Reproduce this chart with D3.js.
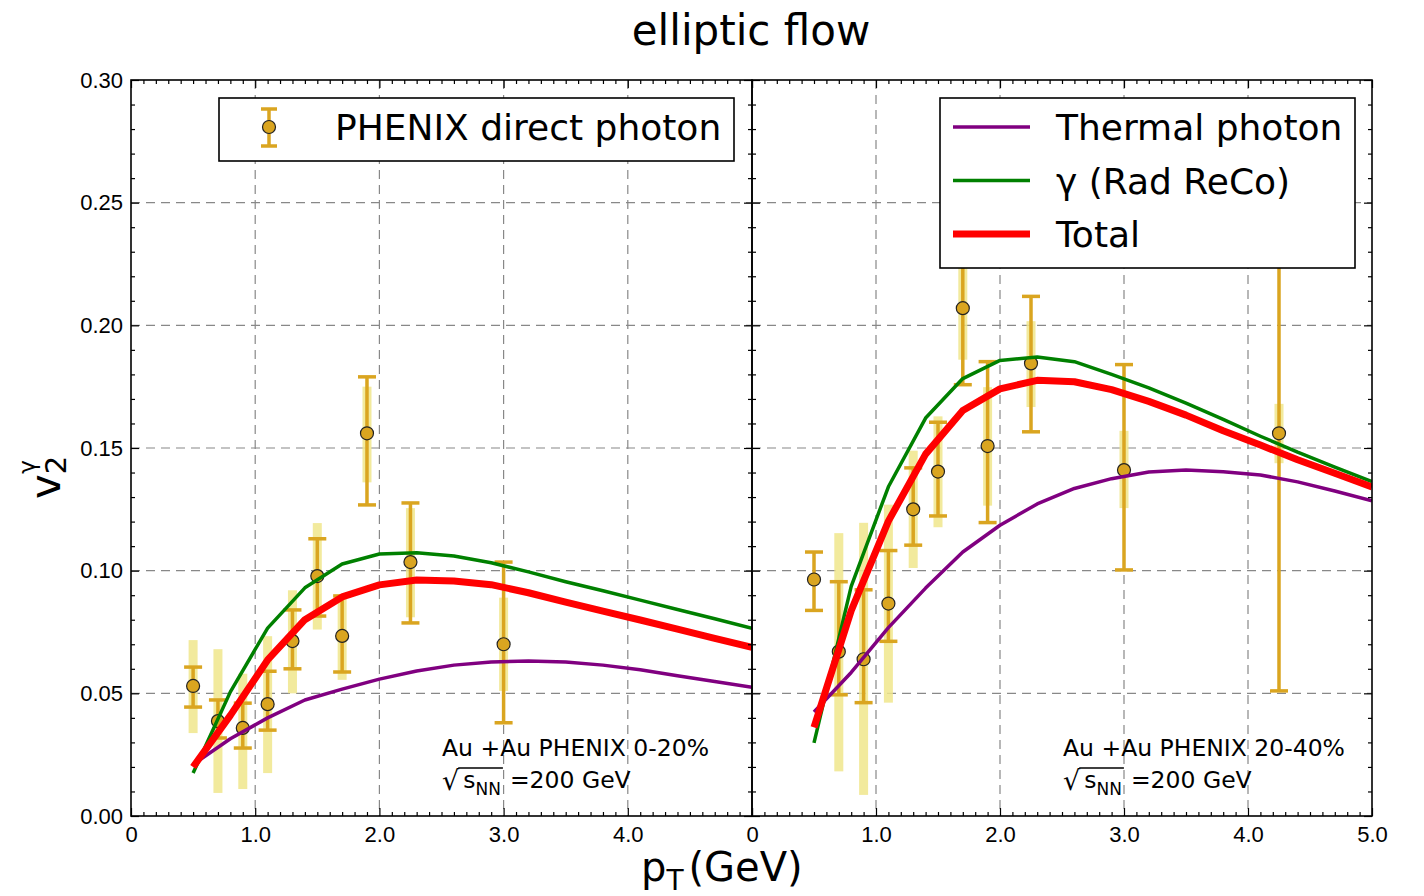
<!DOCTYPE html>
<html>
<head>
<meta charset="utf-8">
<script src="https://cdn.jsdelivr.net/npm/d3@7"></script>
<style>
  body { margin: 0; background: #fff; }
  svg { font-family: "DejaVu Sans", sans-serif; }
  .grid line { stroke: #888; stroke-width: 1.2; stroke-dasharray: 9 6; }
  .axis text { font-size: 22px; fill: #000; }
  .axis line { stroke: #000; stroke-width: 1.2; }
</style>
</head>
<body>
<script>
// ---- model curves (pT grid shared by both panels)
const ptCurve = [0.5, 0.8, 1.1, 1.4, 1.7, 2.0, 2.3, 2.6, 2.9, 3.2, 3.5, 3.8, 4.1, 4.4, 4.7, 5.0];

const thermalCentral = [0.021, 0.0315, 0.040, 0.0473, 0.0517, 0.0558, 0.0591, 0.0615, 0.0628, 0.0632, 0.0628, 0.0615, 0.0596, 0.0572, 0.0548, 0.0525];
const radRecoCentral = [0.0175, 0.0506, 0.0766, 0.093, 0.1027, 0.1068, 0.1073, 0.106, 0.1032, 0.0995, 0.0955, 0.0918, 0.088, 0.0842, 0.0804, 0.0765];
const totalCentral   = [0.020, 0.041, 0.0636, 0.080, 0.0893, 0.0942, 0.0962, 0.0958, 0.0943, 0.091, 0.0872, 0.0835, 0.0799, 0.0762, 0.0724, 0.0687];

const thermalMid = [0.0424, 0.0585, 0.0768, 0.0929, 0.1076, 0.1185, 0.1272, 0.1335, 0.1375, 0.1402, 0.141, 0.1403, 0.139, 0.1362, 0.1325, 0.1285];
const radRecoMid = [0.0298, 0.0936, 0.1342, 0.1622, 0.1783, 0.1857, 0.1871, 0.1852, 0.180, 0.1745, 0.1683, 0.1617, 0.1548, 0.1483, 0.1422, 0.1363];
const totalMid   = [0.0361, 0.0837, 0.1202, 0.1475, 0.1653, 0.1741, 0.1776, 0.177, 0.1738, 0.169, 0.1634, 0.157, 0.1512, 0.1452, 0.1397, 0.1341];

// ---- PHENIX direct photon data, 0-20%
const ptCentral      = [0.5, 0.7, 0.9, 1.1, 1.3, 1.5, 1.7, 1.9, 2.25, 3.0];
const v2Central      = [0.053, 0.0387, 0.0359, 0.0456, 0.0713, 0.0978, 0.0734, 0.156, 0.1035, 0.070];
const statLoCentral  = [0.0444, 0.0318, 0.0277, 0.035, 0.060, 0.0815, 0.0587, 0.1268, 0.0787, 0.038];
const statHiCentral  = [0.0607, 0.0473, 0.046, 0.059, 0.084, 0.113, 0.0897, 0.179, 0.1276, 0.1035];
const sysLoCentral   = [0.0338, 0.0094, 0.011, 0.0175, 0.050, 0.076, 0.0555, 0.136, 0.081, 0.051];
const sysHiCentral   = [0.0717, 0.068, 0.058, 0.0733, 0.092, 0.1194, 0.0904, 0.175, 0.1255, 0.089];

// ---- PHENIX direct photon data, 20-40%
const ptMid      = [0.5, 0.7, 0.9, 1.1, 1.3, 1.5, 1.7, 1.9, 2.25, 3.0, 4.25];
const v2Mid      = [0.0964, 0.067, 0.0639, 0.0866, 0.125, 0.1404, 0.207, 0.1508, 0.1845, 0.141, 0.156];
const statLoMid  = [0.0838, 0.0494, 0.0462, 0.0712, 0.1104, 0.1223, 0.1758, 0.1196, 0.1566, 0.1003, 0.051];
const statHiMid  = [0.1076, 0.0955, 0.0922, 0.1082, 0.1419, 0.1605, 0.238, 0.1852, 0.2118, 0.184, 0.261];
const sysLoMid   = [null, 0.0182, 0.0086, 0.0462, 0.1011, 0.1177, 0.186, 0.1265, 0.1667, 0.1255, 0.1438];
const sysHiMid   = [null, 0.1153, 0.1195, 0.1269, 0.1489, 0.1629, 0.228, 0.1748, 0.2017, 0.157, 0.168];

const xTicks = [0, 1, 2, 3, 4, 5];
const yTicks = [0, 0.05, 0.10, 0.15, 0.20, 0.25, 0.30];

const width = 1424, height = 896;
const plotTop = 80, plotBottom = 816;
const gold = "#DAA520", khaki = "#F0E68C";

const svg = d3.select("body").append("svg")
    .attr("width", width)
    .attr("height", height);

const y = d3.scaleLinear().domain([0, 0.3]).range([plotBottom, plotTop]);

const panels = [
    {left: 131, right: 752, curves: [thermalCentral, radRecoCentral, totalCentral],
     pt: ptCentral, v2: v2Central, statLo: statLoCentral, statHi: statHiCentral,
     sysLo: sysLoCentral, sysHi: sysHiCentral, yLabels: true, lastLabel: false,
     note: "Au +Au PHENIX 0-20%", noteX: 442},
    {left: 752, right: 1372, curves: [thermalMid, radRecoMid, totalMid],
     pt: ptMid, v2: v2Mid, statLo: statLoMid, statHi: statHiMid,
     sysLo: sysLoMid, sysHi: sysHiMid, yLabels: false, lastLabel: true,
     note: "Au +Au PHENIX 20-40%", noteX: 1063}
];

const curveStyle = [
    {color: "#800080", w: 3.5},
    {color: "#008000", w: 3.5},
    {color: "#FF0000", w: 7}
];

panels.forEach((p, pi) => {
    const x = d3.scaleLinear().domain([0, 5]).range([p.left, p.right]);
    const g = svg.append("g");

    g.append("clipPath").attr("id", "clip" + pi)
      .append("rect")
        .attr("x", p.left).attr("y", plotTop)
        .attr("width", p.right - p.left).attr("height", plotBottom - plotTop);

    // grid
    const grid = g.append("g").attr("class", "grid");
    grid.selectAll(".gx").data(xTicks.slice(1, -1)).enter().append("line")
        .attr("x1", d => x(d)).attr("x2", d => x(d))
        .attr("y1", plotTop).attr("y2", plotBottom);
    grid.selectAll(".gy").data(yTicks.slice(1, -1)).enter().append("line")
        .attr("x1", p.left).attr("x2", p.right)
        .attr("y1", d => y(d)).attr("y2", d => y(d));

    const plot = g.append("g").attr("clip-path", "url(#clip" + pi + ")");
    const idx = d3.range(p.pt.length);

    // systematic bands (under the stat bars)
    plot.selectAll(".sys").data(idx.filter(i => p.sysLo[i] != null)).enter().append("rect")
        .attr("x", i => x(p.pt[i]) - 4.5)
        .attr("width", 9)
        .attr("y", i => y(p.sysHi[i]))
        .attr("height", i => y(p.sysLo[i]) - y(p.sysHi[i]))
        .attr("fill", khaki).attr("opacity", 0.85);

    // statistical error bars
    plot.selectAll(".stat").data(idx).enter().append("line")
        .attr("x1", i => x(p.pt[i])).attr("x2", i => x(p.pt[i]))
        .attr("y1", i => y(p.statLo[i])).attr("y2", i => y(p.statHi[i]))
        .attr("stroke", gold).attr("stroke-width", 3.5);
    [p.statLo, p.statHi].forEach(arr => {
        plot.selectAll(null).data(idx).enter().append("line")
            .attr("x1", i => x(p.pt[i]) - 9).attr("x2", i => x(p.pt[i]) + 9)
            .attr("y1", i => y(arr[i])).attr("y2", i => y(arr[i]))
            .attr("stroke", gold).attr("stroke-width", 3.5);
    });

    // markers
    plot.selectAll(".pt").data(idx).enter().append("circle")
        .attr("cx", i => x(p.pt[i])).attr("cy", i => y(p.v2[i]))
        .attr("r", 6.5)
        .attr("fill", gold).attr("stroke", "#222").attr("stroke-width", 1.2);

    // model curves
    const line = d3.line().x((d, i) => x(ptCurve[i])).y(d => y(d));
    p.curves.forEach((c, ci) => {
        plot.append("path").datum(c)
            .attr("d", line)
            .attr("fill", "none")
            .attr("stroke", curveStyle[ci].color)
            .attr("stroke-width", curveStyle[ci].w)
            .attr("stroke-linejoin", "round");
    });

    // axes with inward ticks
    const xMinor = d3.range(0, 51).filter(d => d % 10 !== 0).map(d => d / 10);
    const yMinor = d3.range(0, 31).filter(d => d % 5 !== 0).map(d => d / 100);
    const fmtX = d => d === 0 ? "0" : (d === 5 && !p.lastLabel ? "" : d3.format(".1f")(d));

    g.append("g").attr("class", "axis")
        .attr("transform", `translate(0,${plotBottom})`)
        .call(d3.axisBottom(x).tickValues(xTicks).tickSize(-8).tickSizeOuter(0).tickPadding(10).tickFormat(fmtX))
        .call(a => a.select(".domain").remove());
    g.append("g").attr("class", "axis")
        .attr("transform", `translate(0,${plotBottom})`)
        .call(d3.axisBottom(x).tickValues(xMinor).tickSize(-4).tickFormat(""))
        .call(a => a.select(".domain").remove());
    g.append("g").attr("class", "axis")
        .attr("transform", `translate(0,${plotTop})`)
        .call(d3.axisTop(x).tickValues(xTicks).tickSize(-8).tickFormat(""))
        .call(a => a.select(".domain").remove());
    g.append("g").attr("class", "axis")
        .attr("transform", `translate(0,${plotTop})`)
        .call(d3.axisTop(x).tickValues(xMinor).tickSize(-4).tickFormat(""))
        .call(a => a.select(".domain").remove());

    g.append("g").attr("class", "axis")
        .attr("transform", `translate(${p.left},0)`)
        .call(d3.axisLeft(y).tickValues(yTicks).tickSize(-8).tickPadding(8)
            .tickFormat(p.yLabels ? d3.format(".2f") : ""))
        .call(a => a.select(".domain").remove());
    g.append("g").attr("class", "axis")
        .attr("transform", `translate(${p.left},0)`)
        .call(d3.axisLeft(y).tickValues(yMinor).tickSize(-4).tickFormat(""))
        .call(a => a.select(".domain").remove());
    g.append("g").attr("class", "axis")
        .attr("transform", `translate(${p.right},0)`)
        .call(d3.axisRight(y).tickValues(yTicks).tickSize(-8).tickFormat(""))
        .call(a => a.select(".domain").remove());
    g.append("g").attr("class", "axis")
        .attr("transform", `translate(${p.right},0)`)
        .call(d3.axisRight(y).tickValues(yMinor).tickSize(-4).tickFormat(""))
        .call(a => a.select(".domain").remove());

    g.append("rect")
        .attr("x", p.left).attr("y", plotTop)
        .attr("width", p.right - p.left).attr("height", plotBottom - plotTop)
        .attr("fill", "none").attr("stroke", "#000").attr("stroke-width", 1.6);

    // annotation
    const note = g.append("g").attr("font-size", 23.5);
    note.append("text").attr("x", p.noteX).attr("y", 756).text(p.note);
    const root = note.append("text").attr("x", p.noteX).attr("y", 790).attr("font-size", 27).text("√");
    const rootW = root.node().getComputedTextLength();
    const s = note.append("text").attr("x", p.noteX + rootW + 4).attr("y", 788);
    s.append("tspan").text("s");
    s.append("tspan").attr("font-size", 17).attr("dy", 7).text("NN");
    const sW = s.node().getComputedTextLength();
    note.append("line")
        .attr("x1", p.noteX + rootW - 1).attr("x2", p.noteX + rootW + 4 + sW + 2)
        .attr("y1", 768).attr("y2", 768)
        .attr("stroke", "#000").attr("stroke-width", 1.3);
    note.append("text").attr("x", p.noteX + rootW + 4 + sW + 9).attr("y", 788).text("=200 GeV");
});

// legends
const leg1 = svg.append("g");
leg1.append("rect").attr("x", 219).attr("y", 98).attr("width", 515).attr("height", 63)
    .attr("fill", "#fff").attr("stroke", "#000").attr("stroke-width", 1.6);
leg1.append("line").attr("x1", 269).attr("x2", 269).attr("y1", 109).attr("y2", 146)
    .attr("stroke", gold).attr("stroke-width", 3.5);
[109, 146].forEach(v => leg1.append("line").attr("x1", 261).attr("x2", 277).attr("y1", v).attr("y2", v)
    .attr("stroke", gold).attr("stroke-width", 3.5));
leg1.append("circle").attr("cx", 269).attr("cy", 127).attr("r", 6.5)
    .attr("fill", gold).attr("stroke", "#222").attr("stroke-width", 1.2);
leg1.append("text").attr("x", 335).attr("y", 140).attr("font-size", 36).text("PHENIX direct photon");

const legendLabels = ["Thermal photon", "γ (Rad ReCo)", "Total"];
const leg2 = svg.append("g");
leg2.append("rect").attr("x", 940).attr("y", 98).attr("width", 415).attr("height", 170)
    .attr("fill", "#fff").attr("stroke", "#000").attr("stroke-width", 1.6);
legendLabels.forEach((lab, i) => {
    const yy = 127 + i * 53.5;
    leg2.append("line").attr("x1", 953).attr("x2", 1030).attr("y1", yy).attr("y2", yy)
        .attr("stroke", curveStyle[i].color).attr("stroke-width", curveStyle[i].w);
    leg2.append("text").attr("x", 1056).attr("y", yy + 13).attr("font-size", 36).text(lab);
});

// titles
svg.append("text").attr("x", 751).attr("y", 45).attr("text-anchor", "middle")
    .attr("font-size", 42).text("elliptic flow");

const xl = svg.append("text").attr("x", 641).attr("y", 881).attr("font-size", 40);
xl.append("tspan").text("p");
xl.append("tspan").attr("font-size", 28).attr("dy", 9).text("T");
xl.append("tspan").attr("dy", -9).attr("dx", 5).text("(GeV)");

const yl = svg.append("text").attr("transform", "translate(60,499) rotate(-90)").attr("font-size", 42);
yl.append("tspan").text("v");
yl.append("tspan").attr("font-size", 29).attr("dy", 6).text("2");
yl.append("tspan").attr("font-size", 23).attr("dx", -18).attr("dy", -31).text("γ");
</script>
</body>
</html>
